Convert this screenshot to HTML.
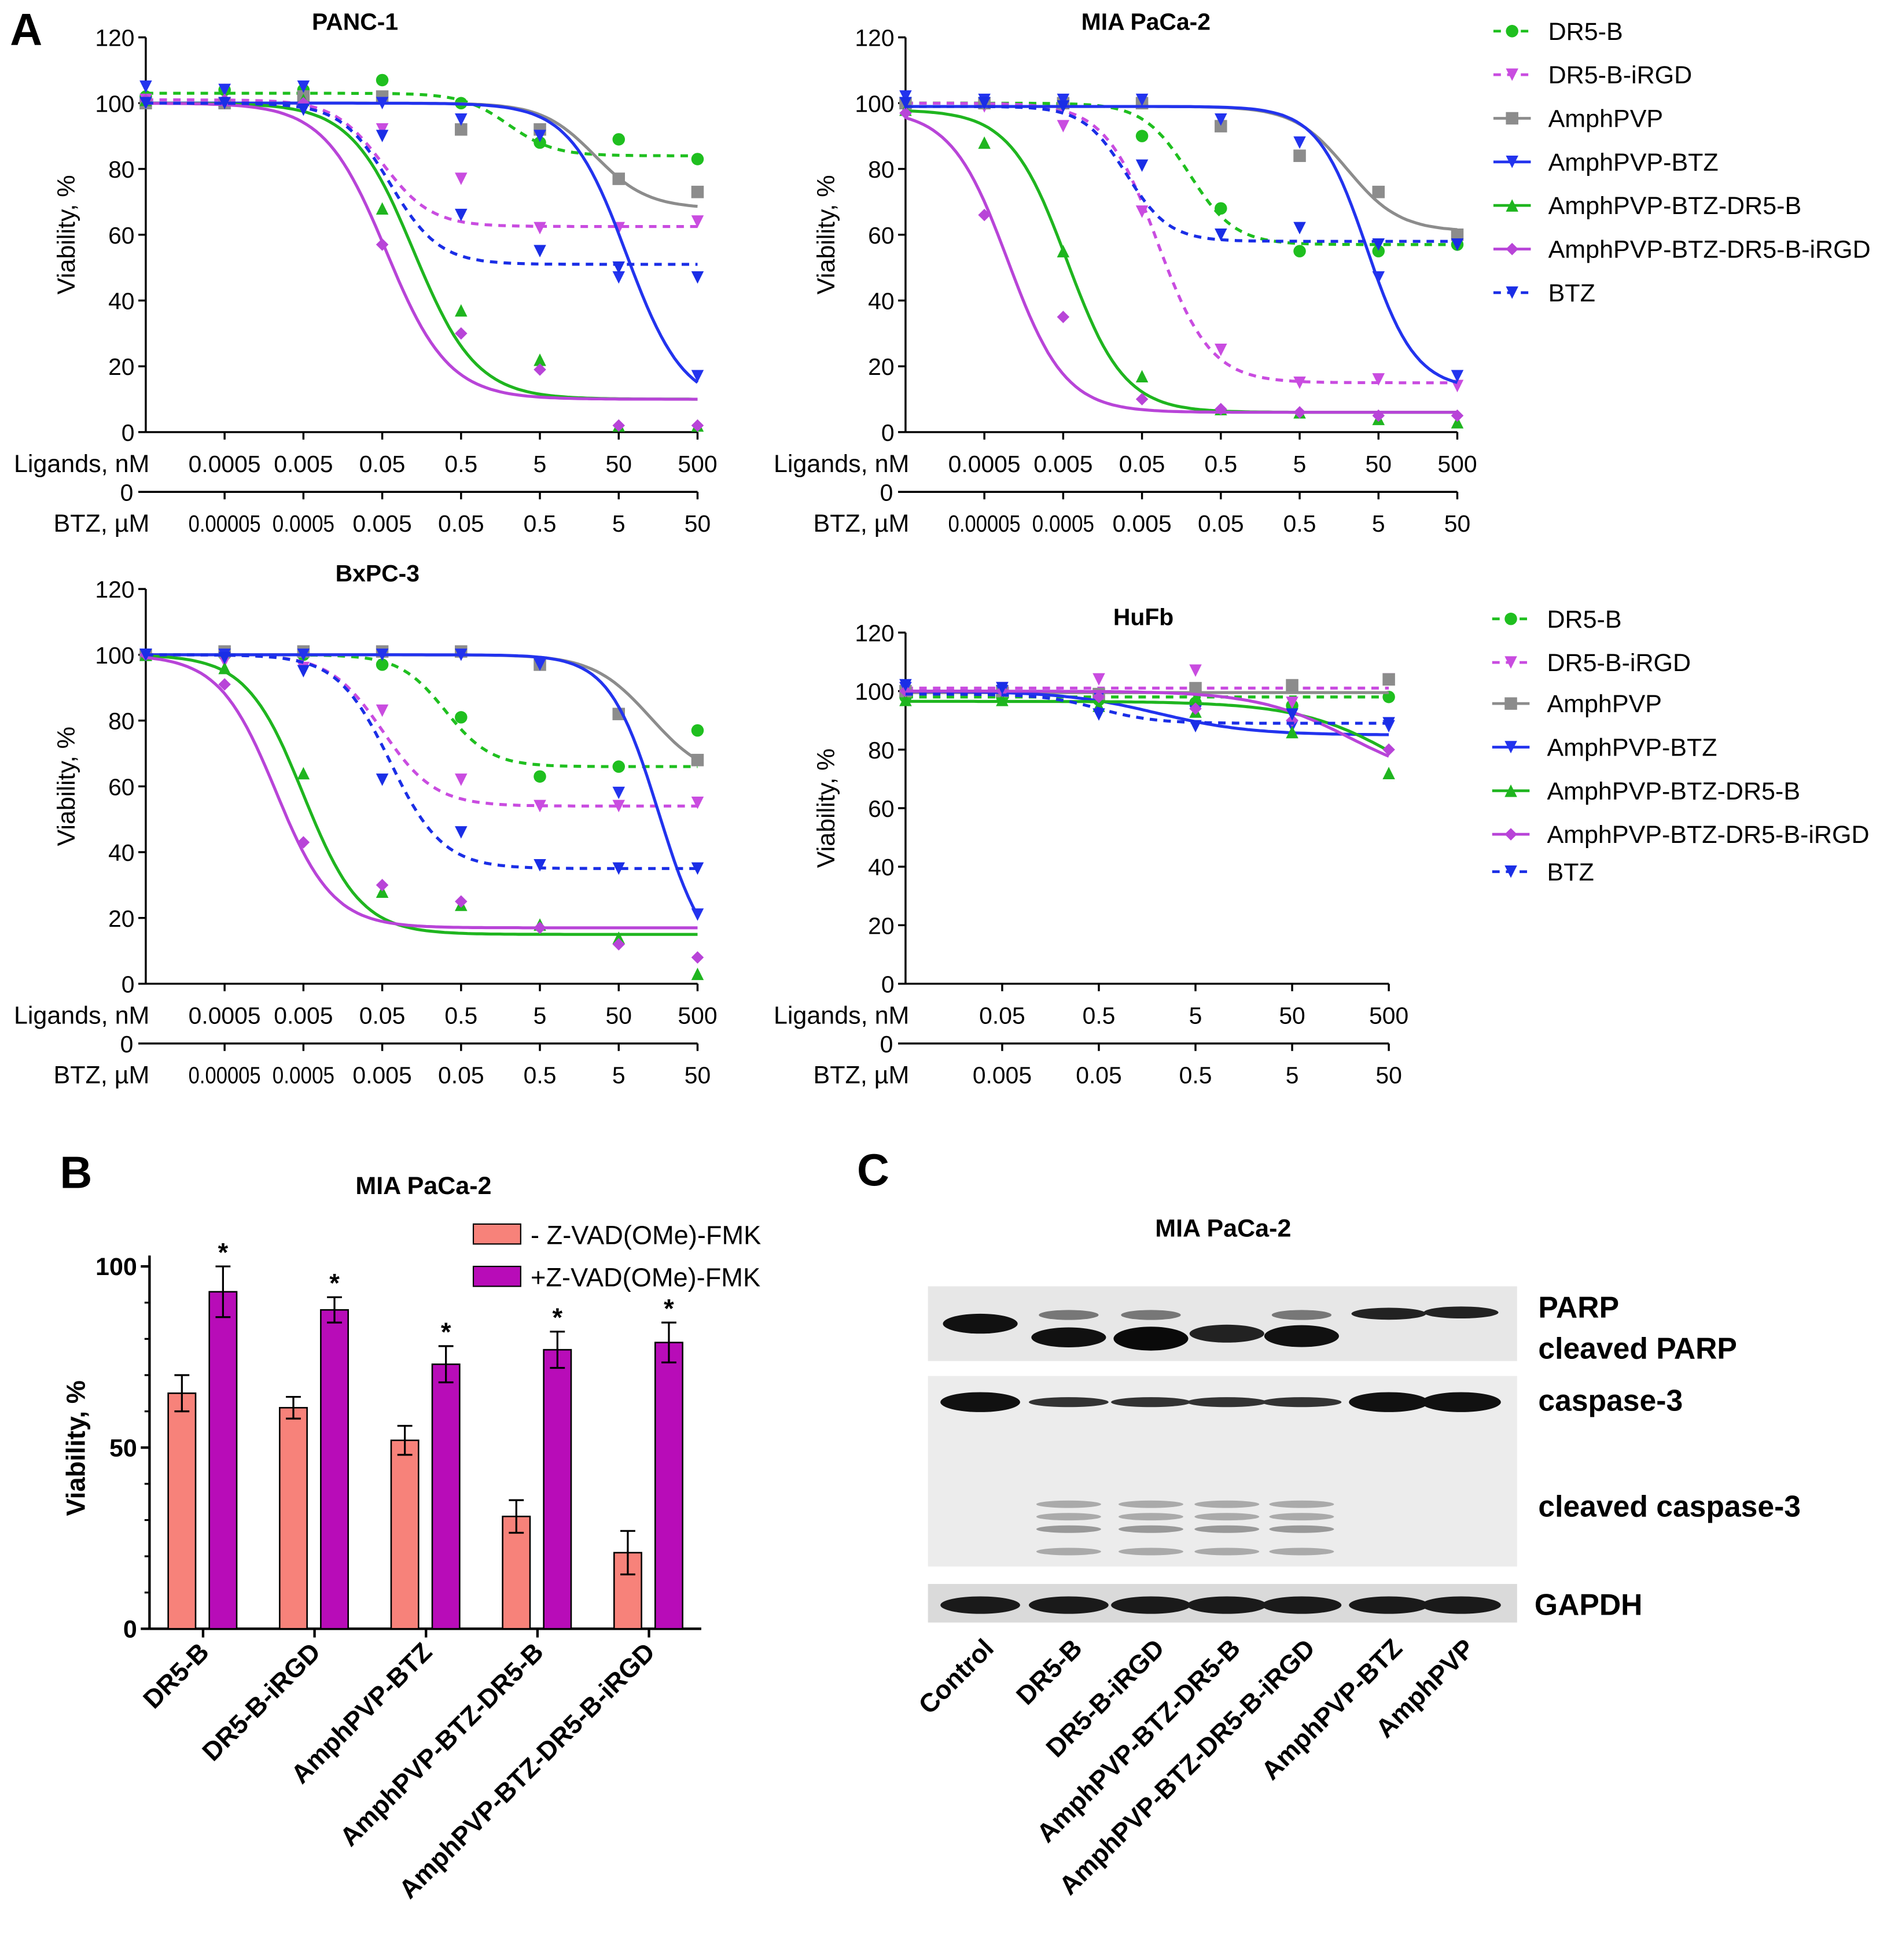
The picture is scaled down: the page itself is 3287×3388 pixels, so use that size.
<!DOCTYPE html>
<html><head><meta charset="utf-8"><style>
html,body{margin:0;padding:0;background:#fff}
svg{display:block}
text{font-family:"Liberation Sans",Arial,sans-serif;fill:#000}
</style></head><body>
<svg id="fig" xmlns="http://www.w3.org/2000/svg" width="3287" height="3388" viewBox="0 0 1527 1574">
<rect x="0" y="0" width="1527" height="1574" fill="#fff"/>
</svg>
<script>
// ---------- DATA ----------
const seriesNames = ["DR5-B","DR5-B-iRGD","AmphPVP","AmphPVP-BTZ","AmphPVP-BTZ-DR5-B","AmphPVP-BTZ-DR5-B-iRGD","BTZ"];
const ligandTicks7 = ["0.0005","0.005","0.05","0.5","5","50","500"];
const btzTicks7 = ["0.00005","0.0005","0.005","0.05","0.5","5","50"];
const ligandTicks5 = ["0.05","0.5","5","50","500"];
const btzTicks5 = ["0.005","0.05","0.5","5","50"];
// PANC-1 points (dose index 0..7)
const panc_DR5B = [102,104,104,107,100,88,89,83];
const panc_iRGD = [101,104,102,92,77,62,62,64];
const panc_Amph = [100,100,102,102,92,92,77,73];
const panc_AmphBTZ = [105,104,105,100,95,90,47,17];
const panc_Combo = [101,101,101,68,37,22,2,2];
const panc_ComboI = [101,101,100,57,30,19,2,2];
const panc_BTZ = [100,100,98,90,66,55,50,47];
// curve params [top,bottom,mid,hill]
const panc_fit = [[103,84,4.6,1.5],[101,62.5,3.0,1.4],[100,68,5.7,1.3],[100,8,6.1,1.2],[100,10,3.4,1.1],[100,10,3.05,1.1],[100,51,3.1,1.4]];
// MIA PaCa-2
const mia_DR5B = [100,100,100,90,68,55,55,57];
const mia_iRGD = [99,99,93,67,25,15,16,14];
const mia_Amph = [100,100,100,100,93,84,73,60];
const mia_AmphBTZ = [102,101,101,101,95,88,47,17];
const mia_Combo = [98,88,55,17,7,6,4,3];
const mia_ComboI = [97,66,35,10,7,6,5,5];
const mia_BTZ = [100,100,99,81,60,62,57,57];
const mia_fit = [[100,57,3.6,1.5],[100,15,3.2,1.3],[99,61,5.6,1.3],[99,13,5.85,1.4],[98,6,2.05,1.2],[98,6,1.3,1.2],[99,58,2.8,1.6]];
// BxPC-3
const bx_DR5B = [100,100,100,97,81,63,66,77];
const bx_iRGD = [100,98,96,83,62,54,54,55];
const bx_Amph = [100,101,101,101,101,97,82,68];
const bx_AmphBTZ = [100,100,100,100,100,97,58,21];
const bx_Combo = [100,96,64,28,24,18,14,3];
const bx_ComboI = [100,91,43,30,25,17,12,8];
const bx_BTZ = [100,99,95,62,46,36,35,35];
const bx_fit = [[100,66,3.8,1.5],[100,54,3.0,1.3],[100,62,6.4,1.2],[100,5,6.5,1.4],[100,15,2.0,1.2],[100,17,1.65,1.2],[100,35,3.1,1.3]];
// HuFb (dose index 0..5)
const hu_DR5B = [98,98,97,96,95,98];
const hu_iRGD = [101,101,104,107,96,104];
const hu_Amph = [100,100,99,101,102,104];
const hu_AmphBTZ = [101,100,98,93,88,88];
const hu_Combo = [97,97,95,93,86,72];
const hu_ComboI = [100,100,98,94,90,80];
const hu_BTZ = [102,101,92,88,92,89];
const hu_fit = [[98,98,3,1],[101,101,3,1],[99.5,99.5,3,1],[100,85,2.6,0.9],[96.5,55,5.2,0.8],[100,68,4.6,0.9],[99,89,2.0,1.5]];
// Panel B
const barCats = ["DR5-B","DR5-B-iRGD","AmphPVP-BTZ","AmphPVP-BTZ-DR5-B","AmphPVP-BTZ-DR5-B-iRGD"];
const barNo = [65,61,52,31,21];
const barNoErr = [5,3,4,4.5,6];
const barZ = [93,88,73,77,79];
const barZErr = [7,3.5,5,5,5.5];
const barTicks = [0,50,100];
// Panel C
const laneNames = ["Control","DR5-B","DR5-B-iRGD","AmphPVP-BTZ-DR5-B","AmphPVP-BTZ-DR5-B-iRGD","AmphPVP-BTZ","AmphPVP"];

// ---------- HELPERS ----------
const NS='http://www.w3.org/2000/svg';
const svg=document.getElementById('fig');
function mk(tag,attrs,parent){const e=document.createElementNS(NS,tag);for(const k in attrs)e.setAttribute(k,attrs[k]);(parent||svg).appendChild(e);return e;}
function txt(s,x,y,size,anchor,parent,extra){const t=mk('text',Object.assign({x:x,y:y,'font-size':size,'text-anchor':anchor||'start'},extra||{}),parent);t.textContent=s;return t;}
const styles=[
 {c:'#1fbf1f',dash:'6,5',m:'circle'},
 {c:'#c94ce0',dash:'6,5',m:'down'},
 {c:'#8c8c8c',dash:null,m:'square'},
 {c:'#2233ee',dash:null,m:'down'},
 {c:'#1fb51f',dash:null,m:'up'},
 {c:'#b844d8',dash:null,m:'diamond'},
 {c:'#1a2ee6',dash:'6,5',m:'down'}];
function marker(type,x,y,c,g){
 const r=5;
 if(type==='circle')return mk('circle',{cx:x,cy:y,r:r,fill:c},g);
 if(type==='square')return mk('rect',{x:x-r,y:y-r,width:2*r,height:2*r,fill:c},g);
 if(type==='down')return mk('polygon',{points:`${x-r},${y-r} ${x+r},${y-r} ${x},${y+r}`,fill:c},g);
 if(type==='up')return mk('polygon',{points:`${x-r},${y+r} ${x+r},${y+r} ${x},${y-r}`,fill:c},g);
 return mk('polygon',{points:`${x},${y-r} ${x+r},${y} ${x},${y+r} ${x-r},${y}`,fill:c},g);
}
function logistic(p,x){return p[1]+(p[0]-p[1])/(1+Math.pow(10,(x-p[2])*p[3]));}

function doseChart(cfg){
 const g=mk('g',{});
 
 
 const n=cfg.lig.length;
 const xs=i=>cfg.x0+i*(cfg.x1-cfg.x0)/n;
 const ys=v=>cfg.yb+(cfg.yt-cfg.yb)*v/120;
 const t=txt(cfg.title,cfg.tx,cfg.yt-6,19,'middle',g,{'font-weight':'bold'});
 
 
 mk('line',{x1:cfg.x0,y1:cfg.yt,x2:cfg.x0,y2:cfg.yb,stroke:'#000','stroke-width':1.6},g);
 for(let v=0;v<=120;v+=20){mk('line',{x1:cfg.x0-6,y1:ys(v),x2:cfg.x0,y2:ys(v),stroke:'#000','stroke-width':1.6},g);
  txt(String(v),cfg.x0-9,ys(v)+7,19,'end',g);}
 const yl=txt('Viability, %',0,0,20,'middle',g,{transform:`translate(${cfg.x0-57},${(cfg.yt+cfg.yb)/2}) rotate(-90)`});
 
 
 mk('line',{x1:cfg.x0,y1:cfg.yb,x2:cfg.x1,y2:cfg.yb,stroke:'#000','stroke-width':1.6},g);
 for(let i=1;i<=n;i++){mk('line',{x1:xs(i),y1:cfg.yb,x2:xs(i),y2:cfg.yb+6,stroke:'#000','stroke-width':1.6},g);
  txt(cfg.lig[i-1],xs(i),cfg.yb+32,19,'middle',g);}
 const l1=txt('Ligands, nM',cfg.x0+3,cfg.yb+32,20,'end',g);
 
 
 const y2=cfg.yb+48;
 mk('line',{x1:cfg.x0-6,y1:y2,x2:cfg.x1,y2:y2,stroke:'#000','stroke-width':1.6},g);
 txt('0',cfg.x0-10,y2+7,19,'end',g);
 for(let i=1;i<=n;i++){mk('line',{x1:xs(i),y1:y2,x2:xs(i),y2:y2+6,stroke:'#000','stroke-width':1.6},g);
  const s=cfg.btz[i-1];
  const lt=txt(s,xs(i),y2+32,19,'middle',g);
  if(s.length>=6){lt.setAttribute('textLength',(s.length*8.3).toFixed(1));lt.setAttribute('lengthAdjust','spacingAndGlyphs');}}
 const l2=txt('BTZ, µM',cfg.x0+3,y2+32,20,'end',g);
 
 
 cfg.data.forEach((arr,s)=>{
  const st=styles[s];const sg=mk('g',{},g);
  
  
  let d='';for(let k=0;k<=120;k++){const x=n*k/120;d+=(k?'L':'M')+xs(x).toFixed(1)+','+ys(logistic(cfg.fit[s],x)).toFixed(1);}
  const p=mk('path',{d:d,fill:'none',stroke:st.c,'stroke-width':2.4},sg);
  if(st.dash)p.setAttribute('stroke-dasharray',st.dash);
  arr.forEach((v,i)=>{const m=marker(st.m,xs(i),ys(v),st.c,sg);
   
   });
 });
}
doseChart({name:'panc1-chart',title:'PANC-1',tx:285,x0:117,x1:560,yt:30,yb:347,lig:ligandTicks7,btz:btzTicks7,fit:panc_fit,data:[panc_DR5B,panc_iRGD,panc_Amph,panc_AmphBTZ,panc_Combo,panc_ComboI,panc_BTZ]});
doseChart({name:'miapaca2-chart',title:'MIA PaCa-2',tx:920,x0:727,x1:1170,yt:30,yb:347,lig:ligandTicks7,btz:btzTicks7,fit:mia_fit,data:[mia_DR5B,mia_iRGD,mia_Amph,mia_AmphBTZ,mia_Combo,mia_ComboI,mia_BTZ]});
doseChart({name:'bxpc3-chart',title:'BxPC-3',tx:303,x0:117,x1:560,yt:473,yb:790,lig:ligandTicks7,btz:btzTicks7,fit:bx_fit,data:[bx_DR5B,bx_iRGD,bx_Amph,bx_AmphBTZ,bx_Combo,bx_ComboI,bx_BTZ]});
doseChart({name:'hufb-chart',title:'HuFb',tx:918,x0:727,x1:1115,yt:508,yb:790,lig:ligandTicks5,btz:btzTicks5,fit:hu_fit,data:[hu_DR5B,hu_iRGD,hu_Amph,hu_AmphBTZ,hu_Combo,hu_ComboI,hu_BTZ]});

function legend(x,ys,name){
 const g=mk('g',{});
 
 
 seriesNames.forEach((s,i)=>{const st=styles[i];const e=mk('g',{},g);
  
  
  const l=mk('line',{x1:x,y1:ys[i],x2:x+30,y2:ys[i],stroke:st.c,'stroke-width':2.2},e);
  if(st.dash)l.setAttribute('stroke-dasharray',st.dash);
  marker(st.m,x+15,ys[i],st.c,e);
  txt(s,x+44,ys[i]+7,20,'start',e);});
}
legend(1199,[25,60,95,130,165,200,235],'legend-top');
legend(1198,[497,532,565,600,635,670,700],'legend-bottom');

[['A',8,36],['B',48,954],['C',688,952]].forEach(a=>{const t=txt(a[0],a[1],a[2],36,'start',svg,{'font-weight':'bold'});
 
 });

// ---------- PANEL B ----------
(function(){
 const g=mk('g',{});
 
 
 const x0=120,x1=563,yb=1308,yt100=1017;
 const ys=v=>yb+(yt100-yb)*v/100;
 const grp=i=>163+i*89.5;
 txt('MIA PaCa-2',340,959,20,'middle',g,{'font-weight':'bold'});
 mk('line',{x1:x0,y1:ys(103),x2:x0,y2:yb,stroke:'#000','stroke-width':2},g);
 mk('line',{x1:x0,y1:yb,x2:x1,y2:yb,stroke:'#000','stroke-width':2},g);
 barTicks.forEach(v=>{mk('line',{x1:x0-7,y1:ys(v),x2:x0,y2:ys(v),stroke:'#000','stroke-width':2},g);
  txt(String(v),x0-10,ys(v)+7,20,'end',g,{'font-weight':'bold'});});
 for(let v=10;v<100;v+=10){if(v%50)mk('line',{x1:x0-4,y1:ys(v),x2:x0,y2:ys(v),stroke:'#000','stroke-width':1.5},g);}
 const yl=txt('Viability, %',0,0,21,'middle',g,{'font-weight':'bold',transform:`translate(68,1163) rotate(-90)`});
 
 
 const bw=22;
 barCats.forEach((c,i)=>{
  [[barNo,barNoErr,'#f7827a',-17],[barZ,barZErr,'#b80cb8',16]].forEach((b,k)=>{
   const cx=grp(i)+b[3];
   const r=mk('rect',{x:cx-bw/2,y:ys(b[0][i]),width:bw,height:yb-ys(b[0][i]),fill:b[2],stroke:'#000','stroke-width':1.2},g);
   
   
   const top=ys(b[0][i]+b[1][i]),bot=ys(b[0][i]-b[1][i]);
   mk('path',{d:`M${cx},${top}V${bot}M${cx-6},${top}H${cx+6}M${cx-6},${bot}H${cx+6}`,stroke:'#000','stroke-width':1.5,fill:'none'},g);
   if(k)txt('*',cx,top-4,21,'middle',g,{'font-weight':'bold'});
  });
  mk('line',{x1:grp(i),y1:yb,x2:grp(i),y2:yb+7,stroke:'#000','stroke-width':2},g);
  const t=txt(c,0,0,21,'end',g,{'font-weight':'bold',transform:`translate(${grp(i)+6},${yb+20}) rotate(-45)`});
  
  
 });
 const lg=mk('g',{},g);
 
 
 mk('rect',{x:380,y:983,width:38,height:16,fill:'#f7827a',stroke:'#000','stroke-width':1},lg);
 txt('- Z-VAD(OMe)-FMK',426,999,21,'start',lg);
 mk('rect',{x:380,y:1017,width:38,height:16,fill:'#b80cb8',stroke:'#000','stroke-width':1},lg);
 txt('+Z-VAD(OMe)-FMK',426,1033,21,'start',lg);
})();

// ---------- PANEL C ----------
(function(){
 const g=mk('g',{});
 
 
 txt('MIA PaCa-2',982,993,20,'middle',g,{'font-weight':'bold'});
 const lanes=[787,858,924,985,1045,1115,1173];
 mk('rect',{x:745,y:1033,width:473,height:60,fill:'#e7e7e7'},g);
 mk('rect',{x:745,y:1105,width:473,height:153,fill:'#ececec'},g);
 mk('rect',{x:745,y:1272,width:473,height:31,fill:'#dadada'},g);
 const parp=[[0,1063,1,'#111'],[1,1074,1,'#111'],[2,1075,1.2,'#0a0a0a'],[3,1071,0.9,'#222'],[4,1073,1.1,'#111'],[5,1055,0.6,'#222'],[6,1054,0.6,'#222']];
 parp.forEach(p=>{mk('ellipse',{cx:lanes[p[0]],cy:p[1],rx:30,ry:8*p[2],fill:p[3]},g);});
 [1,2,4].forEach(i=>mk('ellipse',{cx:lanes[i],cy:1056,rx:24,ry:4,fill:'#777'},g));
 lanes.forEach((x,i)=>{const big=(i===0||i>=5);mk('ellipse',{cx:x,cy:1126,rx:32,ry:big?8:4,fill:big?'#111':'#333'},g);});
 [1,2,3,4].forEach(i=>{[1208,1218,1228,1246].forEach((y,k)=>mk('ellipse',{cx:lanes[i],cy:y,rx:26,ry:3,fill:k===2?'#999':'#aaa'},g));});
 lanes.forEach(x=>mk('ellipse',{cx:x,cy:1289,rx:32,ry:7,fill:'#1a1a1a'},g));
 [['PARP',1235,1058],['cleaved PARP',1235,1091],['caspase-3',1235,1133],['cleaved caspase-3',1235,1218],['GAPDH',1232,1297]].forEach(l=>{
  const t=txt(l[0],l[1],l[2],24,'start',g,{'font-weight':'bold'});
  
  });
 laneNames.forEach((n,i)=>{const t=txt(n,0,0,21,'end',g,{'font-weight':'bold',transform:`translate(${lanes[i]+12},${1325}) rotate(-45)`});
  
  });
})();
</script>
</body></html>
